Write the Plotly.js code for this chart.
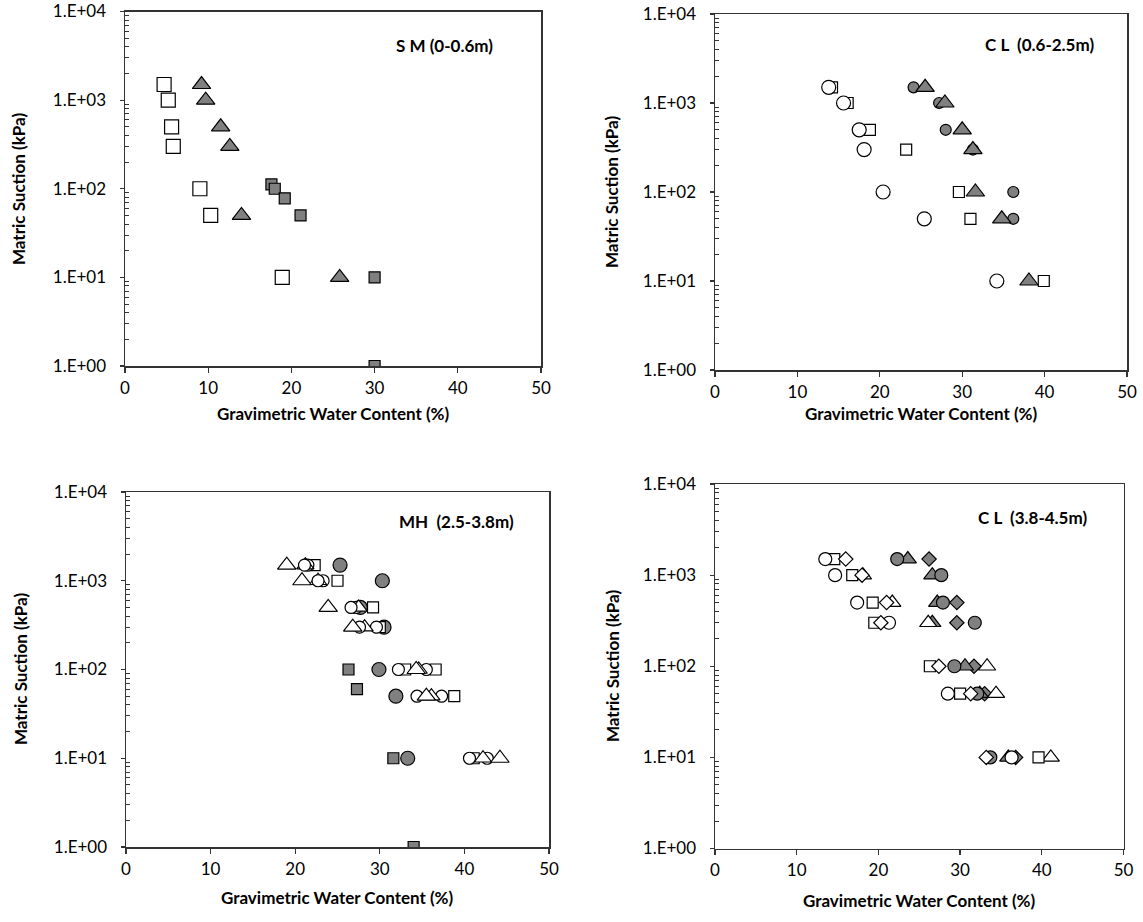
<!DOCTYPE html>
<html>
<head>
<meta charset="utf-8">
<script src="https://cdn.plot.ly/plotly-3.0.1.min.js"></script>
<style>
html,body{margin:0;padding:0;background:#fff;}
#chart{width:1143px;height:922px;}
</style>
</head>
<body>
<div id="chart"></div>
<script>
// ---------- data ----------
// Panel 1: SM (0-0.6m)
const p1Title = "S M (0-0.6m)";
const p1_openSq_x = [4.7, 5.2, 5.6, 5.8, 9.0, 10.3, 18.9];
const p1_openSq_y = [1500, 1000, 500, 300, 100, 50, 10];
const p1_greyTri_x = [9.2, 9.7, 11.5, 12.6, 14.0, 25.8];
const p1_greyTri_y = [1500, 1000, 500, 300, 50, 10];
const p1_greySq_x = [17.6, 18.0, 19.2, 21.1, 30.0, 30.0];
const p1_greySq_y = [112, 100, 78, 50, 10, 1];

// Panel 2: CL (0.6-2.5m)
const p2Title = "C L  (0.6-2.5m)";
const p2_openCirc_x = [13.8, 15.6, 17.5, 18.1, 20.4, 25.4, 34.2];
const p2_openCirc_y = [1500, 1000, 500, 300, 100, 50, 10];
const p2_openSq_x = [14.2, 16.1, 18.8, 23.2, 29.6, 31.0, 39.9];
const p2_openSq_y = [1500, 1000, 500, 300, 100, 50, 10];
const p2_greyCirc_x = [24.1, 27.2, 28.0, 31.3, 36.2, 36.2];
const p2_greyCirc_y = [1500, 1000, 500, 300, 100, 50];
const p2_greyTri_x = [25.5, 27.9, 30.0, 31.3, 31.6, 34.8, 38.1];
const p2_greyTri_y = [1500, 1000, 500, 300, 100, 50, 10];

// Panel 3: MH (2.5-3.8m)
const p3Title = "MH  (2.5-3.8m)";
const p3_openTriA_x = [19.0, 20.8, 23.9, 26.8, 34.3, 35.5, 44.2];
const p3_openTriB_x = [21.2, 22.7, 27.5, 28.2, 34.6, 36.1, 42.2];
const p3_openCircA_x = [21.1, 22.7, 26.6, 27.6, 32.2, 34.4, 40.6];
const p3_openCircB_x = [21.5, 23.3, 27.2, 29.6, 35.5, 37.3, 42.7];
const p3_openSqA_x = [22.3, 25.0, 29.2, 30.0, 36.6, 38.8, 41.1];
const p3_open_y = [1500, 1000, 500, 300, 100, 50, 10];
const p3_openSqB_x = [33.0];
const p3_openSqB_y = [100];
const p3_greyCirc_x = [25.3, 30.3, 27.7, 30.5, 29.9, 31.9, 33.3];
const p3_greyCirc_y = [1500, 1000, 500, 300, 100, 50, 10];
const p3_greySq_x = [26.3, 27.3, 31.6, 34.0];
const p3_greySq_y = [100, 60, 10, 1];

// Panel 4: CL (3.8-4.5m)
const p4Title = "C L  (3.8-4.5m)";
const p4_openCirc_x = [13.5, 14.7, 17.4, 21.3, 28.5, 36.3];
const p4_openCirc_y = [1500, 1000, 500, 300, 50, 10];
const p4_openSq_x = [14.6, 16.8, 19.3, 19.5, 26.3, 30.0, 39.6];
const p4_openSq_y = [1500, 1000, 500, 300, 100, 50, 10];
const p4_openDia_x = [16.0, 18.0, 21.0, 20.3, 27.4, 31.3, 33.2];
const p4_openDia_y = [1500, 1000, 500, 300, 100, 50, 10];
const p4_openTri_x = [18.1, 21.7, 26.1, 33.3, 34.4, 41.1];
const p4_openTri_y = [1000, 500, 300, 100, 50, 10];
const p4_greyCirc_x = [22.3, 27.7, 27.9, 31.8, 29.3, 32.1, 33.7];
const p4_greyCirc_y = [1500, 1000, 500, 300, 100, 50, 10];
const p4_greyTri_x = [23.6, 26.6, 27.2, 26.6, 30.6, 32.4, 35.9];
const p4_greyTri_y = [1500, 1000, 500, 300, 100, 50, 10];
const p4_greyDia_x = [26.2, 29.6, 29.6, 31.7, 33.0, 36.8];
const p4_greyDia_y = [1500, 500, 300, 100, 50, 10];

// ticks
const xTickVals = [0, 10, 20, 30, 40, 50];
const yTickVals = [1, 10, 100, 1000, 10000];
const yTickText = ["1.E+00", "1.E+01", "1.E+02", "1.E+03", "1.E+04"];
const xTitle = "Gravimetric Water Content (%)";
const yTitle = "Matric Suction (kPa)";

// ---------- styling ----------
const W = 1143, H = 922;
const GREY = "#808080";
const WHITE = "#ffffff";
const FONT = "Lato, 'Open Sans', sans-serif";

function tr(x, y, symbol, fill, size, axisIdx, lw) {
  const s = axisIdx === 1 ? "" : String(axisIdx);
  return {
    type: "scatter", mode: "markers", x: x, y: y,
    xaxis: "x" + s, yaxis: "y" + s, showlegend: false, hoverinfo: "x+y",
    marker: { symbol: symbol, color: fill, size: size,
      line: { color: "#000000", width: lw || 1.2 } }
  };
}

const data = [
  tr(p1_openSq_x, p1_openSq_y, "square", WHITE, 14, 1),
  tr(p1_greyTri_x, p1_greyTri_y, "triangle-up", GREY, 16, 1),
  tr(p1_greySq_x, p1_greySq_y, "square", GREY, 11, 1),

  tr(p2_openSq_x, p2_openSq_y, "square", WHITE, 11, 2),
  tr(p2_openCirc_x, p2_openCirc_y, "circle", WHITE, 14, 2),
  tr(p2_greyCirc_x, p2_greyCirc_y, "circle", GREY, 11, 2),
  tr(p2_greyTri_x, p2_greyTri_y, "triangle-up", GREY, 16, 2),

  tr(p3_greySq_x, p3_greySq_y, "square", GREY, 11, 3),
  tr(p3_greyCirc_x, p3_greyCirc_y, "circle", GREY, 14, 3),
  tr(p3_openSqA_x, p3_open_y, "square", WHITE, 11, 3),
  tr(p3_openSqB_x, p3_openSqB_y, "square", WHITE, 11, 3),
  tr(p3_openCircB_x, p3_open_y, "circle", WHITE, 12, 3),
  tr(p3_openTriB_x, p3_open_y, "triangle-up", WHITE, 15, 3),
  tr(p3_openCircA_x, p3_open_y, "circle", WHITE, 12, 3),
  tr(p3_openTriA_x, p3_open_y, "triangle-up", WHITE, 16, 3),

  tr(p4_greyDia_x, p4_greyDia_y, "diamond", GREY, 11, 4),
  tr(p4_greyTri_x, p4_greyTri_y, "triangle-up", GREY, 15, 4),
  tr(p4_greyCirc_x, p4_greyCirc_y, "circle", GREY, 13, 4),
  tr(p4_openTri_x, p4_openTri_y, "triangle-up", WHITE, 15, 4),
  tr(p4_openSq_x, p4_openSq_y, "square", WHITE, 11, 4),
  tr(p4_openCirc_x, p4_openCirc_y, "circle", WHITE, 13, 4),
  tr(p4_openDia_x, p4_openDia_y, "diamond", WHITE, 11, 4)
];

// minor tick positions on log axis (2..9 of each decade)
const minorVals = [];
for (let d = 1; d < 10000; d *= 10) for (let k = 2; k <= 9; k++) minorVals.push(k * d);

// panel pixel boxes [left, right, top, bottom]
const boxes = [
  [125, 541, 11.5, 366],
  [715, 1127, 14, 370],
  [126, 549, 492, 847],
  [715, 1123.5, 484, 848.5]
];

function xa(b, anchor) {
  return {
    domain: [b[0] / W, b[1] / W], anchor: anchor, range: [0, 50],
    tickmode: "array", tickvals: xTickVals, ticks: "outside", ticklen: 5,
    tickcolor: "#333", tickwidth: 1.2,
    showline: true, mirror: true, linecolor: "#333", linewidth: 1.5,
    showgrid: false, zeroline: false,
    tickfont: { family: FONT, size: 17, color: "#000" }, ticklabelstandoff: 1
  };
}
function ya(b, anchor) {
  return {
    domain: [1 - b[3] / H, 1 - b[2] / H], anchor: anchor, type: "log", range: [0, 4],
    tickmode: "array", tickvals: yTickVals, ticktext: yTickText,
    ticks: "outside", ticklen: 4, tickcolor: "#333", tickwidth: 1.2,
    minor: { tickmode: "array", tickvals: minorVals, ticks: "inside", ticklen: 4,
             tickcolor: "#333", tickwidth: 1, showgrid: false },
    showline: true, mirror: true, linecolor: "#333", linewidth: 1.5,
    showgrid: false, zeroline: false,
    tickfont: { family: FONT, size: 17, color: "#000" }, ticklabelstandoff: 10
  };
}

function ann(text, px, py, size, rot) {
  return {
    text: text, xref: "paper", yref: "paper", x: px / W, y: 1 - py / H,
    xanchor: "center", yanchor: "middle", showarrow: false, textangle: rot || 0,
    font: { family: FONT, size: size, color: "#000", weight: "bold" }
  };
}

const annotations = [
  ann("<b>" + p1Title + "</b>", 444, 45.5, 17),
  ann("<b>" + p2Title + "</b>", 1039, 44.5, 17),
  ann("<b>" + p3Title + "</b>", 456, 521, 17),
  ann("<b>" + p4Title + "</b>", 1032, 517.5, 17),
  ann("<b>" + xTitle + "</b>", 333, 413, 17),
  ann("<b>" + xTitle + "</b>", 921, 413, 17),
  ann("<b>" + xTitle + "</b>", 337.5, 897, 17),
  ann("<b>" + xTitle + "</b>", 919, 900, 17),
  ann("<b>" + yTitle + "</b>", 18, 189, 17, -90),
  ann("<b>" + yTitle + "</b>", 612, 192, 17, -90),
  ann("<b>" + yTitle + "</b>", 20, 669, 17, -90),
  ann("<b>" + yTitle + "</b>", 612, 666, 17, -90)
];

const layout = {
  width: W, height: H,
  margin: { l: 0, r: 0, t: 0, b: 0 },
  paper_bgcolor: "#ffffff", plot_bgcolor: "#ffffff",
  showlegend: false,
  font: { family: FONT, color: "#000" },
  xaxis: xa(boxes[0], "y"), yaxis: ya(boxes[0], "x"),
  xaxis2: xa(boxes[1], "y2"), yaxis2: ya(boxes[1], "x2"),
  xaxis3: xa(boxes[2], "y3"), yaxis3: ya(boxes[2], "x3"),
  xaxis4: xa(boxes[3], "y4"), yaxis4: ya(boxes[3], "x4"),
  annotations: annotations
};

Plotly.newPlot("chart", data, layout, { staticPlot: true, displayModeBar: false });
</script>
</body>
</html>
